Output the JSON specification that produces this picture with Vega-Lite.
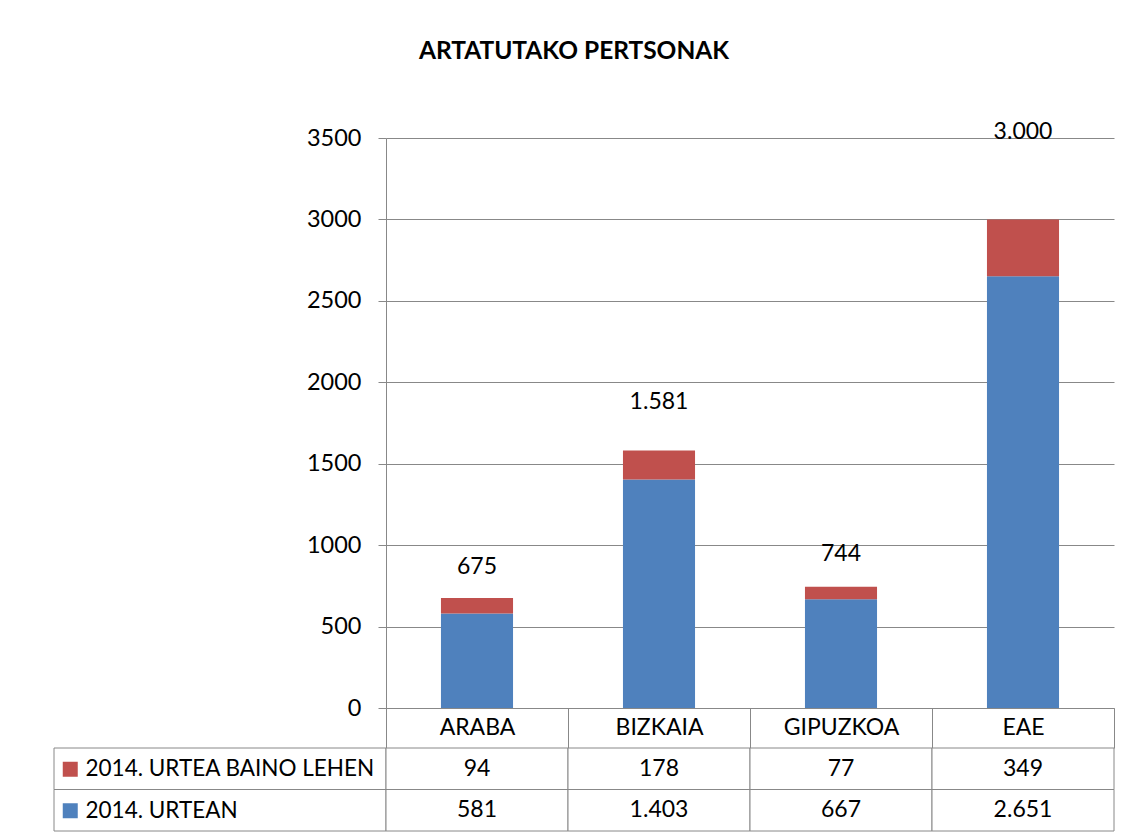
{
  "$schema": "https://vega.github.io/schema/vega-lite/v6.json",
  "background": "white",
  "padding": {"left": 53, "top": 38, "right": 10, "bottom": 6},
  "config": {
    "view": {"stroke": null},
    "font": "Lato",
    "locale": {"number": {"decimal": ",", "thousands": ".", "grouping": [3], "currency": ["", " €"]}}
  },
  "title": {"text": "ARTATUTAKO PERTSONAK", "font": "Lato", "fontSize": 24.5, "fontWeight": "bold", "color": "black", "anchor": "middle", "offset": 57, "dx": -10},
  "data": {"values": [
    {"region": "ARABA", "series": "2014. URTEAN", "value": 581},
    {"region": "ARABA", "series": "2014. URTEA BAINO LEHEN", "value": 94},
    {"region": "BIZKAIA", "series": "2014. URTEAN", "value": 1403},
    {"region": "BIZKAIA", "series": "2014. URTEA BAINO LEHEN", "value": 178},
    {"region": "GIPUZKOA", "series": "2014. URTEAN", "value": 667},
    {"region": "GIPUZKOA", "series": "2014. URTEA BAINO LEHEN", "value": 77},
    {"region": "EAE", "series": "2014. URTEAN", "value": 2651},
    {"region": "EAE", "series": "2014. URTEA BAINO LEHEN", "value": 349}
  ]},
  "columns": 2,
  "spacing": {"row": 40, "column": 0},
  "bounds": "flush",
  "concat": [
    {
      "width": 332, "height": 570,
      "mark": {"type": "text"},
      "encoding": {"text": {"value": ""}}
    },
    {
      "width": 728, "height": 570,
      "layer": [
        {
          "mark": {"type": "bar", "width": {"band": 0.396}},
          "encoding": {
            "x": {"field": "region", "type": "nominal", "sort": ["ARABA", "BIZKAIA", "GIPUZKOA", "EAE"],
              "scale": {"paddingInner": 0, "paddingOuter": 0},
              "axis": {"title": null, "orient": "bottom", "tickBand": "extent", "tickSize": 40, "tickColor": "#888888", "domainColor": "#888888", "labelAngle": 0, "labelFont": "Lato", "labelFontSize": 23, "labelColor": "black", "labelPadding": -21, "labelBaseline": "middle", "grid": false}},
            "y": {"field": "value", "type": "quantitative", "stack": "zero",
              "scale": {"domain": [0, 3500], "nice": false},
              "axis": {"title": null, "values": [0, 500, 1000, 1500, 2000, 2500, 3000, 3500], "format": "d", "grid": true, "gridColor": "#888888", "domainColor": "#888888", "tickColor": "#888888", "tickSize": 8, "labelFont": "Lato", "labelFontSize": 23.5, "labelColor": "black", "labelPadding": 17}},
            "color": {"field": "series", "type": "nominal",
              "scale": {"domain": ["2014. URTEA BAINO LEHEN", "2014. URTEAN"], "range": ["#C0504D", "#4F81BD"]},
              "legend": {"orient": "none", "legendX": 5, "legendY": 620, "title": null, "padding": 0, "direction": "vertical", "symbolType": "square", "symbolSize": 225, "symbolStrokeWidth": 0, "symbolOpacity": 1, "labelFont": "Lato", "labelFontSize": 22.5, "labelColor": "black", "labelLimit": 400, "labelOffset": 4, "rowPadding": 18.5}},
            "order": {"field": "series", "sort": "descending"}
          }
        },
        {
          "transform": [{"aggregate": [{"op": "sum", "field": "value", "as": "total"}], "groupby": ["region"]}],
          "mark": {"type": "text", "font": "Lato", "fontSize": 23, "color": "black", "baseline": "middle",
            "dy": {"expr": "datum.region === 'EAE' ? -87 : datum.region === 'BIZKAIA' ? -49 : datum.region === 'GIPUZKOA' ? -33 : -31"}},
          "encoding": {
            "x": {"field": "region", "type": "nominal", "sort": ["ARABA", "BIZKAIA", "GIPUZKOA", "EAE"]},
            "y": {"field": "total", "type": "quantitative"},
            "text": {"field": "total", "type": "quantitative", "format": ",d"}
          }
        }
      ]
    },
    {
      "width": 332, "height": 83,
      "transform": [{"aggregate": [{"op": "count", "as": "n"}], "groupby": ["series"]}],
      "mark": {"type": "rect", "fill": "white", "stroke": "#888888", "strokeWidth": 1},
      "encoding": {
        "y": {"field": "series", "type": "nominal", "scale": {"domain": ["2014. URTEA BAINO LEHEN", "2014. URTEAN"], "paddingInner": 0, "paddingOuter": 0}, "axis": null},
        "x": {"value": 0},
        "x2": {"value": "width"}
      }
    },
    {
      "width": 728, "height": 83,
      "encoding": {
        "x": {"field": "region", "type": "nominal", "sort": ["ARABA", "BIZKAIA", "GIPUZKOA", "EAE"], "scale": {"paddingInner": 0, "paddingOuter": 0}, "axis": null},
        "y": {"field": "series", "type": "nominal", "scale": {"domain": ["2014. URTEA BAINO LEHEN", "2014. URTEAN"], "paddingInner": 0, "paddingOuter": 0}, "axis": null}
      },
      "layer": [
        {"mark": {"type": "rect", "fill": "white", "stroke": "#888888", "strokeWidth": 1}},
        {"mark": {"type": "text", "font": "Lato", "fontSize": 23, "color": "black", "baseline": "middle"},
          "encoding": {"text": {"field": "value", "type": "quantitative", "format": ",d"}}}
      ]
    }
  ]
}
